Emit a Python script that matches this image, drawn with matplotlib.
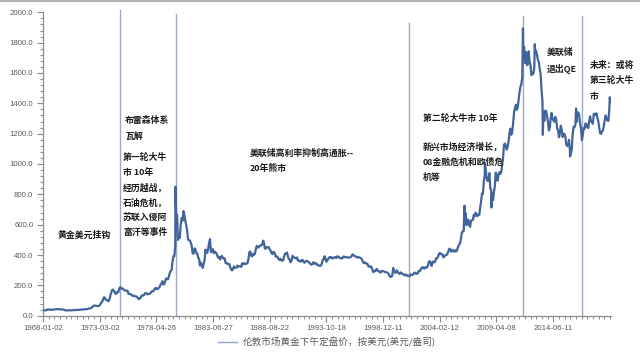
import matplotlib
matplotlib.use("Agg")
import matplotlib.pyplot as plt
import matplotlib.dates as mdates
from matplotlib.ticker import MultipleLocator, FixedLocator, FuncFormatter
import numpy as np
import pandas as pd

# ---------------- data ----------------
first_month = "1968-01"
monthly_price = [
    35.2, 35.2, 37.5, 38.0, 41.0, 41.1, 39.5, 39.2, 39.6, 39.8, 40.4, 41.1,   # 1968
    42.3, 42.6, 43.5, 43.3, 43.5, 41.4, 42.0, 41.0, 40.9, 40.4, 37.4, 35.2,   # 1969
    34.9, 34.9, 35.1, 35.6, 35.5, 35.4, 35.3, 35.4, 36.2, 37.5, 37.4, 37.4,   # 1970
    37.9, 38.7, 38.9, 39.0, 40.5, 40.1, 41.0, 42.7, 42.0, 42.5, 42.9, 43.5,   # 1971
    45.8, 48.3, 48.3, 49.0, 54.6, 62.1, 65.7, 67.0, 65.5, 64.9, 62.9, 63.9,   # 1972
    65.1, 74.2, 84.4, 90.5, 102.0, 120.1, 120.2, 106.8, 103.0, 100.1, 94.9, 106.7,  # 1973
    129.0, 150.2, 168.4, 172.2, 163.7, 154.1, 143.0, 154.6, 151.8, 158.8, 181.7, 188.0,  # 1974
    178.0, 179.6, 178.2, 170.0, 167.2, 164.2, 165.2, 163.1, 144.1, 142.8, 142.8, 139.3,  # 1975
    131.6, 131.0, 132.6, 127.9, 126.8, 125.6, 118.2, 109.0, 114.0, 116.1, 130.6, 133.9,  # 1976
    132.3, 136.3, 148.2, 149.1, 146.8, 140.8, 143.2, 144.8, 149.0, 158.6, 162.1, 160.5,  # 1977
    173.2, 178.2, 183.6, 175.3, 176.3, 183.7, 188.6, 206.1, 212.7, 227.2, 206.0, 207.8,  # 1978
    227.3, 245.7, 242.1, 239.2, 257.6, 279.1, 294.7, 300.8, 355.1, 391.7, 392.5, 460.0,  # 1979
    675.0, 665.3, 500.0, 517.4, 513.8, 600.7, 644.3, 627.0, 690.0, 661.2, 623.5, 594.9,  # 1980
    557.8, 500.8, 498.2, 495.8, 479.9, 460.8, 409.3, 410.1, 443.6, 437.8, 413.4, 410.1,  # 1981
    384.1, 374.2, 330.5, 350.5, 333.9, 314.9, 339.5, 364.4, 435.6, 422.2, 414.6, 444.1,  # 1982
    481.4, 505.0, 419.1, 432.4, 438.0, 412.9, 422.9, 416.2, 412.2, 393.5, 381.7, 388.6,  # 1983
    370.8, 386.2, 394.1, 380.4, 377.4, 377.8, 346.9, 347.7, 341.4, 340.2, 341.2, 320.2,  # 1984
    303.2, 299.1, 304.0, 324.4, 316.6, 316.9, 317.3, 330.0, 323.6, 326.4, 325.3, 321.4,  # 1985
    345.4, 339.1, 345.7, 340.4, 342.5, 342.7, 348.5, 376.8, 419.5, 423.4, 395.4, 391.1,  # 1986
    408.3, 401.1, 408.9, 438.4, 460.0, 449.4, 450.6, 461.0, 460.3, 465.4, 467.9, 495.0,  # 1987
    476.6, 442.1, 443.6, 451.9, 451.3, 451.4, 437.5, 431.4, 413.4, 406.8, 420.5, 418.7,  # 1988
    404.0, 387.8, 390.2, 384.4, 371.1, 367.6, 374.9, 365.4, 362.1, 366.7, 394.3, 409.5,  # 1989
    410.1, 416.7, 393.1, 374.3, 369.1, 352.3, 362.5, 395.0, 389.3, 380.7, 381.5, 378.2,  # 1990
    383.6, 363.8, 363.3, 358.4, 356.9, 366.7, 367.7, 356.3, 348.7, 358.6, 359.7, 361.1,  # 1991
    354.5, 353.9, 344.3, 338.6, 337.2, 340.8, 352.8, 343.0, 345.4, 344.4, 335.0, 334.7,  # 1992
    329.0, 329.3, 330.1, 342.2, 367.2, 371.3, 392.0, 378.8, 355.3, 364.2, 373.9, 383.3,  # 1993
    387.0, 381.9, 384.0, 377.3, 381.4, 385.6, 385.5, 380.4, 391.6, 389.8, 384.4, 379.3,  # 1994
    379.0, 376.8, 382.3, 391.0, 385.3, 387.6, 386.2, 383.7, 383.1, 383.0, 385.6, 387.0,  # 1995
    400.0, 404.8, 396.2, 392.9, 391.9, 385.3, 383.5, 387.5, 383.1, 381.1, 377.9, 369.3,  # 1996
    354.1, 346.6, 351.8, 344.5, 343.8, 340.8, 324.1, 324.0, 322.8, 324.9, 306.0, 288.7,  # 1997
    289.2, 297.5, 295.9, 308.4, 299.1, 292.3, 292.9, 284.1, 289.0, 296.0, 294.1, 291.6,  # 1998
    287.1, 287.3, 286.0, 282.6, 276.4, 261.3, 256.2, 256.7, 264.7, 315.0, 293.2, 283.1,  # 1999
    284.3, 300.0, 286.4, 279.7, 275.1, 285.7, 281.6, 274.5, 273.7, 270.0, 266.0, 271.5,  # 2000
    265.5, 261.9, 263.0, 260.5, 272.4, 270.2, 267.5, 272.4, 283.4, 283.1, 276.2, 275.9,  # 2001
    281.7, 295.5, 294.0, 302.7, 314.5, 321.2, 313.3, 310.3, 319.2, 316.6, 319.1, 333.4,  # 2002
    356.9, 359.0, 340.6, 328.2, 355.7, 356.4, 351.0, 359.8, 378.9, 378.9, 389.9, 407.6,  # 2003
    414.0, 405.3, 406.7, 403.0, 383.8, 392.4, 398.1, 400.5, 405.3, 420.5, 439.4, 442.1,  # 2004
    424.0, 423.4, 434.2, 429.2, 421.9, 430.7, 424.5, 437.9, 456.0, 469.9, 476.7, 509.8,  # 2005
    549.9, 555.0, 557.1, 610.7, 676.5, 596.2, 633.7, 632.6, 598.2, 585.8, 627.8, 629.8,  # 2006
    631.2, 664.8, 654.9, 679.4, 667.3, 655.7, 665.3, 665.4, 712.7, 754.6, 806.3, 803.2,  # 2007
    889.6, 922.3, 968.4, 909.7, 888.7, 889.5, 939.8, 839.0, 829.9, 806.6, 760.9, 816.1,  # 2008
    858.7, 943.2, 924.3, 890.2, 928.6, 945.7, 934.2, 949.5, 996.6, 1043.2, 1127.0, 1134.7,  # 2009
    1117.9, 1095.4, 1113.3, 1148.7, 1205.4, 1232.9, 1193.0, 1215.8, 1270.9, 1342.0, 1369.9, 1390.6,  # 2010
    1356.4, 1372.7, 1424.0, 1473.8, 1510.4, 1528.7, 1572.8, 1755.8, 1771.9, 1665.2, 1738.9, 1652.3,  # 2011
    1656.1, 1742.6, 1673.8, 1650.1, 1585.5, 1596.7, 1594.3, 1630.3, 1744.8, 1746.6, 1721.6, 1684.8,  # 2012
    1671.9, 1627.6, 1593.1, 1487.9, 1414.0, 1343.4, 1285.5, 1351.7, 1348.6, 1316.6, 1275.8, 1221.5,  # 2013
    1244.3, 1299.6, 1336.1, 1299.0, 1287.5, 1279.1, 1310.6, 1295.1, 1236.6, 1222.5, 1176.3, 1202.3,  # 2014
    1251.9, 1227.1, 1178.6, 1198.9, 1198.6, 1181.5, 1128.3, 1117.9, 1124.6, 1159.3, 1086.4, 1068.3,  # 2015
    1097.9, 1199.5, 1245.1, 1242.3, 1260.9, 1276.4, 1337.3, 1340.2, 1326.0, 1266.6, 1238.4, 1157.4,  # 2016
    1192.1, 1234.2, 1231.4, 1266.9, 1246.0, 1260.3, 1236.8, 1283.0, 1314.1, 1279.5, 1281.9, 1264.5,  # 2017
    1331.3, 1330.7, 1324.7, 1334.8, 1303.5, 1281.6, 1237.7, 1201.7, 1198.4, 1215.4, 1220.7, 1250.4,  # 2018
    1291.8, 1320.1, 1300.9, 1285.9, 1283.7, 1359.0, 1412.9,                                          # 2019
]
# daily extremes visible in the picture
spike_dates = ["1980-01-21", "2006-05-12", "2008-03-17", "2008-10-24", "2011-09-06",
               "2012-10-04", "2013-06-28", "2015-12-17", "2016-07-06", "2019-08-01"]
spike_values = [850.0, 725.0, 1011.0, 713.0, 1895.0, 1790.0, 1192.0, 1050.0, 1366.0, 1440.0]

tick_labels = ["1968-01-02", "1973-03-02", "1978-04-26", "1983-06-27", "1988-08-22",
               "1993-10-18", "1998-12-11", "2004-02-12", "2009-04-08", "2014-06-11"]
axis_end = "2019-09-10"

event_dates = ["1975-01-12", "1980-02-10", "2001-04-13", "2011-09-17", "2017-01-30"]
event_tops = [2013, 1989, 1930, 1976, 1976]

series_label = "伦敦市场黄金下午定盘价，按美元(美元/盎司)"

notes = [
    (["黄金美元挂钩"], 58, 235.7, 15.2),
    (["布雷森体系", "瓦解"], 125, 120.7, 15.5),
    (["第一轮大牛", "市 10年", "经历越战，", "石油危机，", "苏联入侵阿", "富汗等事件"], 123, 157.3, 15.1),
    (["美联储高利率抑制高通胀--", "20年熊市"], 250, 153.3, 15.0),
    (["第二轮大牛市 10年"], 422.7, 118.3, 15.0),
    (["新兴市场经济增长，", "08金融危机和欧债危", "机等"], 422.7, 146.7, 15.3),
    (["美联储", "退出QE"], 546.7, 52.7, 16.3),
    (["未来：或将", "第三轮大牛", "市"], 589.3, 65.0, 15.5),
]

# ---------------- build series ----------------
mdates_idx = pd.date_range(first_month + "-15", periods=len(monthly_price), freq="MS") + pd.Timedelta(days=14)
s = pd.Series(monthly_price, index=mdates_idx)
s = pd.concat([s, pd.Series(spike_values, index=pd.to_datetime(spike_dates))]).sort_index()

W, H = 640, 358
fig = plt.figure(figsize=(W / 100, H / 100), dpi=100)
fig.patch.set_facecolor("white")

left_px, right_px, bottom_px, top_px = 43, 611, 315.7, 12.3
ax = fig.add_axes([left_px / W, 1 - bottom_px / H, (right_px - left_px) / W, (bottom_px - top_px) / H])

line_color = "#41649a"
ax.plot(s.index, s.values, color=line_color, lw=1.6, label=series_label, zorder=3)

for d, t in zip(event_dates, event_tops):
    dd = pd.Timestamp(d)
    ax.plot([dd, dd], [0, t], color="#9aaac6", lw=1.0, clip_on=False, zorder=2)

ax.set_ylim(0, 2000)
x0 = mdates.date2num(pd.Timestamp(tick_labels[0]))
x1 = mdates.date2num(pd.Timestamp(axis_end))
ax.set_xlim(x0, x1)

major = [mdates.date2num(pd.Timestamp(t)) for t in tick_labels]
ax.xaxis.set_major_locator(FixedLocator(major))
ax.set_xticklabels(tick_labels)
step = np.diff(major).mean()
minor = []
for a, b in zip(major[:-1], major[1:]):
    minor += list(np.linspace(a, b, 11)[1:-1])
k = 1
while major[-1] + k * step / 10 <= x1 + 1:
    minor.append(major[-1] + k * step / 10)
    k += 1
ax.xaxis.set_minor_locator(FixedLocator(minor))

ax.yaxis.set_major_locator(MultipleLocator(200))
ax.yaxis.set_minor_locator(MultipleLocator(40))
ax.yaxis.set_major_formatter(FuncFormatter(lambda v, p: f"{v:.1f}"))

for sp in ["top", "right"]:
    ax.spines[sp].set_visible(False)
for sp in ["left", "bottom"]:
    ax.spines[sp].set_color("#8c8c8c")
    ax.spines[sp].set_linewidth(0.9)

ax.tick_params(axis="both", which="major", direction="out", length=4, width=0.8,
               color="#8c8c8c", labelsize=5.6, labelcolor="#595959", pad=3)
ax.tick_params(axis="both", which="minor", direction="out", length=2.2, width=0.7, color="#8c8c8c")
for lab in ax.get_xticklabels() + ax.get_yticklabels():
    lab.set_fontfamily("Liberation Sans")

cjk = ["Noto Sans CJK SC", "DejaVu Sans"]
for lines, x, y, sp in notes:
    for i, txt in enumerate(lines):
        fig.text(x / W, 1 - (y + i * sp) / H, txt, family=cjk, fontsize=6.4,
                 fontweight="bold", color="#1a1a1a", ha="left", va="center")

leg = ax.legend(loc="center", bbox_to_anchor=(327 / W, 1 - 342 / H),
                bbox_transform=fig.transFigure, frameon=False, handlelength=2.0,
                handletextpad=0.6, prop={"family": cjk, "size": 6.9})
for t in leg.get_texts():
    t.set_color("#595959")
for h in leg.get_lines():
    h.set_color("#8fa3c7")
    h.set_linewidth(1.0)

fig.add_artist(plt.Line2D([0, 1], [1 - 0.8 / H, 1 - 0.8 / H], transform=fig.transFigure,
                          color="#b4b4b8", lw=1.5))

fig.savefig("out.png", dpi=100, facecolor="white")
